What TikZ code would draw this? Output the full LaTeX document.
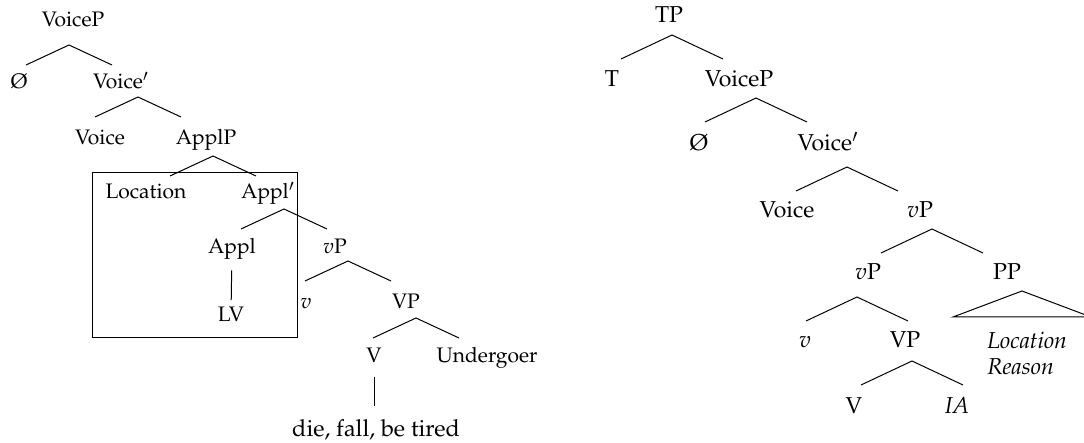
\documentclass[tikz,border=0pt]{standalone}
\usepackage[T1]{fontenc}
\usepackage{mathpazo}
\usepackage{tikz}
\usetikzlibrary{calc}

\begin{document}
\begin{tikzpicture}[
    x=0.5pt, y=-0.5pt,
    lab/.style={anchor=base, inner sep=1pt, font=\fontsize{10.5}{12.6}\selectfont},
    labR/.style={anchor=base, inner sep=1pt, font=\fontsize{11.5}{13.8}\selectfont},
    branch/.style={draw=black, line width=0.5pt},
    stem/.style={draw=black, line width=0.5pt, shorten <=6pt, shorten >=6pt}
]
\useasboundingbox (0,0) rectangle (1084,443);

% =========================================================================
% ARVORE ESQUERDA: VoiceP > ApplP
% =========================================================================
\node[lab] (voicePL)  at (73,27)  {VoiceP};
\node[lab] (nullL)    at (19,89)  {\O};
\node[lab] (voiceBL)  at (121,89) {Voice$'$};
\node[lab] (voiceL)   at (100,145) {Voice};
\node[lab] (applP)    at (206,145) {ApplP};
\node[lab] (location) at (146,199) {Location};
\node[lab] (applB)    at (268,199) {Appl$'$};
\node[lab] (appl)     at (232,254) {Appl};
\node[lab] (vPL)      at (335,254) {$v$P};
\node[lab] (lv)       at (231,322) {LV};
\node[lab] (vL)       at (306,309) {$v$};
\node[lab] (VPL)      at (406,309) {VP};
\node[lab] (VL)       at (374,363) {V};
\node[lab] (undergoer) at (487,363) {Undergoer};
\node[lab, font=\fontsize{11.7}{14}\selectfont] (verbs) at (376,437) {die, fall, be tired};

% vertices dos ramos
\coordinate (voicePLa) at (69,45);
\coordinate (voiceBLa) at (138,97);
\coordinate (applPa)   at (213,156);
\coordinate (applBa)   at (284,209);
\coordinate (vPLa)     at (348,261);
\coordinate (VPLa)     at (416,318);

\foreach \a in {voicePLa, voiceBLa, applPa, applBa, vPLa, VPLa}
    \draw[branch] (\a) ++(-43,20) -- (\a) -- ++(43,20);

\draw[stem, shorten <=4pt, shorten >=2.5pt] (appl) -- (lv);
\draw[stem] (VL) -- (VL |- verbs.north);

% caixa
\draw[branch] (92,173) rectangle (297,338);

% =========================================================================
% ARVORE DIREITA: TP > VoiceP > vP
% =========================================================================
\node[labR] (tp)      at (669,23)  {TP};
\node[labR] (t)       at (612,87)  {T};
\node[labR] (voicePR) at (739,87)  {VoiceP};
\node[labR] (nullR)   at (699,151) {\O};
\node[labR] (voiceBR) at (828,151) {Voice$'$};
\node[labR] (voiceR)  at (787,218) {Voice};
\node[labR] (vPR)     at (920,218) {$v$P};
\node[labR] (vPlow)   at (868,280) {$v$P};
\node[labR] (pp)      at (1007,280) {PP};
\node[labR] (vR)      at (805,348) {$v$};
\node[labR] (VPR)     at (905,348) {VP};
\node[labR, anchor=base west] (loc)    at (985,349) {\textit{Location}};
\node[labR, anchor=base west] (reason) at (985,375) {\textit{Reason}};
\node[labR] (VR)      at (854,414) {V};
\node[labR] (ia)      at (957,414) {\textit{IA}};

\coordinate (tpa)      at (672,35);
\coordinate (voicePRa) at (756,98);
\coordinate (voiceBRa) at (847,167);
\coordinate (vPRa)     at (932,229);
\coordinate (vPlowa)   at (857,297);
\coordinate (VPRa)     at (912,361);

\foreach \a in {tpa, voicePRa, voiceBRa, vPRa, vPlowa, VPRa}
    \draw[branch] (\a) ++(-51,24) -- (\a) -- ++(51,24);

% triangulo do PP
\coordinate (ppa) at (1022,291);
\draw[branch] (ppa) -- ++(-69,26) -- ++(138,0) -- cycle;

\end{tikzpicture}
\end{document}
